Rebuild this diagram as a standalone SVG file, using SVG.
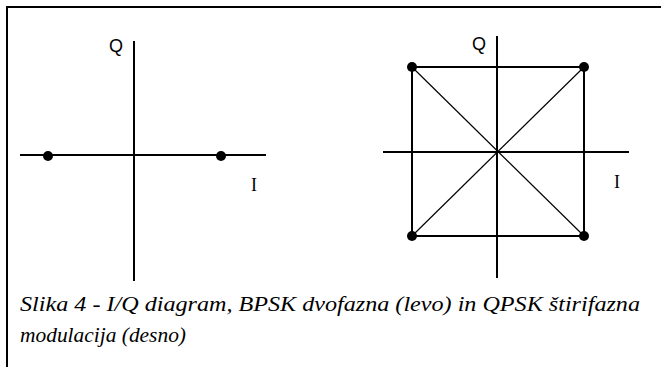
<svg xmlns="http://www.w3.org/2000/svg" width="661" height="367" viewBox="0 0 661 367">
<style>
.ax{stroke:#000;stroke-width:2;fill:none}
.thin{stroke:#000;stroke-width:1.2;fill:none}
.dot{fill:#000}
</style>
<rect width="661" height="367" fill="#fff"/>
<g id="frame">
<path class="ax" d="M7,367 V7 H661"/>
</g>
<g id="bpsk">
<line class="ax" x1="134" y1="41" x2="134" y2="281"/>
<line class="ax" x1="20" y1="155" x2="266" y2="155"/>
<circle class="dot" cx="48" cy="156" r="5"/>
<circle class="dot" cx="221" cy="156" r="5"/>
<text font-family="Liberation Sans, sans-serif" font-size="18" x="109" y="52">Q</text>
<text font-family="Liberation Serif, Times New Roman, serif" font-size="18" x="251" y="191">I</text>
</g>
<g id="qpsk">
<line class="ax" x1="497" y1="36" x2="497" y2="278"/>
<line class="ax" x1="383" y1="152" x2="629" y2="152"/>
<rect class="ax" x="412" y="67" width="172" height="169"/>
<line class="thin" x1="412" y1="67" x2="584" y2="236"/>
<line class="thin" x1="584" y1="67" x2="412" y2="236"/>
<circle class="dot" cx="412" cy="67" r="5"/>
<circle class="dot" cx="584" cy="67" r="5"/>
<circle class="dot" cx="412" cy="236" r="5"/>
<circle class="dot" cx="584" cy="236" r="5"/>
<text font-family="Liberation Sans, sans-serif" font-size="18" x="472" y="50">Q</text>
<text font-family="Liberation Serif, Times New Roman, serif" font-size="18" x="614" y="188">I</text>
</g>
<g id="caption" font-family="Liberation Serif, Times New Roman, serif" font-style="italic" font-size="22">
<text x="20" y="311" textLength="620" lengthAdjust="spacingAndGlyphs">Slika 4 - I/Q diagram, BPSK dvofazna (levo) in QPSK štirifazna</text>
<text x="20" y="342" textLength="166" lengthAdjust="spacingAndGlyphs">modulacija (desno)</text>
</g>
</svg>
